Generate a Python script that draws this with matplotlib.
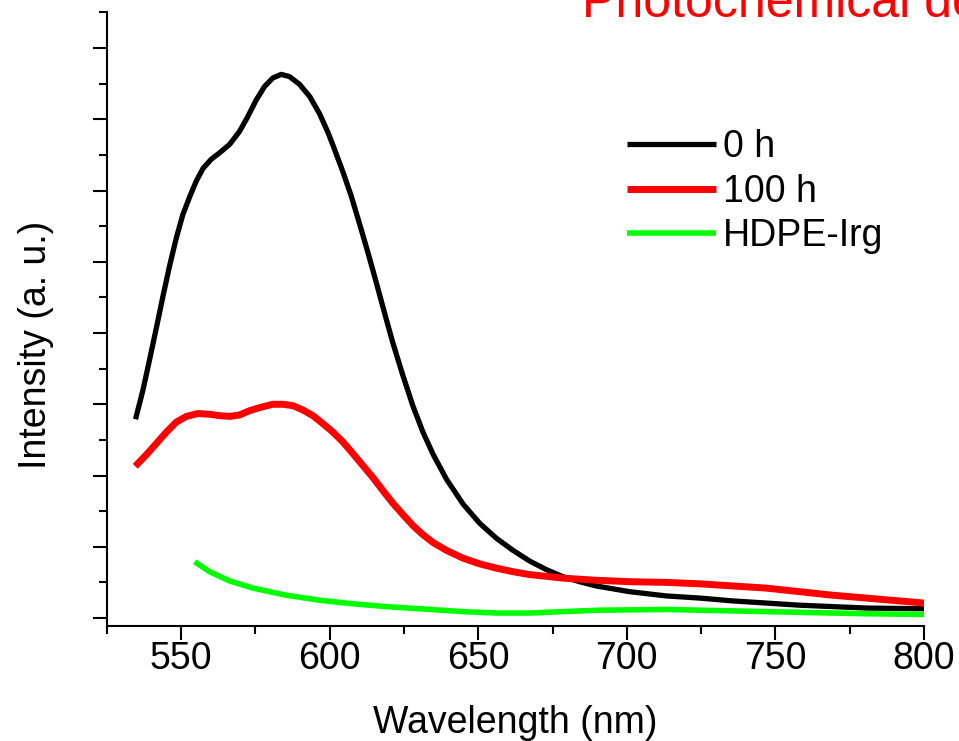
import matplotlib
matplotlib.use("Agg")
import matplotlib.pyplot as plt
from matplotlib.ticker import MultipleLocator, NullFormatter

plt.rcParams['font.family'] = ['Liberation Sans', 'DejaVu Sans']

# 0 h
wl_0h = [534.7, 537.2, 539.4, 541.7, 543.9, 546.2, 548.4, 550.6, 552.9, 555.1,
         557.4, 560.2, 563.0, 566.4, 569.7, 572.5, 575.3, 578.1, 580.9, 583.7,
         586.5, 589.9, 593.3, 596.6, 599.4, 601.1, 604.5, 607.3, 610.1, 612.9,
         615.7, 618.5, 621.3, 624.7, 628.0, 631.4, 634.8, 639.3, 644.9, 650.5,
         656.1, 661.7, 667.3, 672.9, 678.5, 684.1, 689.7, 700.9, 713.3, 724.5,
         735.7, 746.9, 758.1, 769.3, 780.6, 800.0]
int_0h = [2.79, 3.20, 3.62, 4.07, 4.51, 4.95, 5.33, 5.66, 5.91, 6.13,
          6.31, 6.44, 6.53, 6.65, 6.83, 7.04, 7.27, 7.46, 7.58, 7.63,
          7.60, 7.49, 7.32, 7.08, 6.82, 6.64, 6.26, 5.92, 5.53, 5.13,
          4.71, 4.28, 3.86, 3.40, 2.98, 2.61, 2.30, 1.95, 1.60, 1.33,
          1.12, 0.95, 0.80, 0.68, 0.58, 0.51, 0.45, 0.37, 0.31, 0.28,
          0.24, 0.21, 0.18, 0.16, 0.14, 0.13]

# 100 h
wl_100h = [534.6, 538.3, 541.7, 545.1, 548.4, 551.8, 555.7, 559.6, 563.0, 566.4,
           569.7, 573.1, 577.0, 580.9, 584.3, 587.7, 591.0, 594.4, 597.7, 601.1,
           604.5, 607.8, 611.2, 614.6, 617.9, 621.3, 624.7, 628.0, 631.4, 634.8,
           639.3, 644.9, 650.5, 656.1, 661.7, 667.3, 678.5, 689.7, 700.9, 713.3,
           724.5, 735.7, 746.9, 758.1, 769.3, 780.6, 800.0]
int_100h = [2.13, 2.29, 2.45, 2.61, 2.75, 2.83, 2.87, 2.86, 2.84, 2.83,
            2.85, 2.91, 2.96, 3.00, 3.00, 2.98, 2.92, 2.84, 2.73, 2.61,
            2.47, 2.31, 2.14, 1.97, 1.79, 1.61, 1.45, 1.30, 1.17, 1.06,
            0.95, 0.84, 0.76, 0.70, 0.65, 0.61, 0.56, 0.53, 0.51, 0.50,
            0.48, 0.45, 0.42, 0.37, 0.32, 0.28, 0.21]

# HDPE-Irg
wl_ref = [554.6, 559.6, 566.4, 574.2, 585.4, 596.6, 607.8, 619.1, 630.3, 644.9,
          656.1, 667.3, 678.5, 690.8, 713.3, 735.7, 758.1, 780.6, 800.0]
int_ref = [0.79, 0.65, 0.52, 0.42, 0.32, 0.25, 0.20, 0.16, 0.13, 0.09,
           0.07, 0.07, 0.09, 0.11, 0.12, 0.10, 0.08, 0.06, 0.05]

labels = ['0 h', '100 h', 'HDPE-Irg']
colors = ['#000000', '#ff0000', '#00ff00']
widths = [3.8, 5.0, 4.0]

W, H = 959, 741
fig = plt.figure(figsize=(W / 100, H / 100), dpi=100)
ax = fig.add_axes([106.7 / W, 1 - 626 / H, (924 - 106.7) / W, (626 - 12) / H])

for x, y, lab, c, lw in zip([wl_0h, wl_100h, wl_ref], [int_0h, int_100h, int_ref],
                            labels, colors, widths):
    ax.plot(x, y, color=c, lw=lw, label=lab, solid_joinstyle='round',
            solid_capstyle='butt')

ax.set_xlim(525, 800)
ax.set_ylim(-0.112, 8.506)

for s in ['top', 'right']:
    ax.spines[s].set_visible(False)
for s in ['left', 'bottom']:
    ax.spines[s].set_linewidth(1.5)

ax.xaxis.set_major_locator(MultipleLocator(50))
ax.xaxis.set_minor_locator(MultipleLocator(25))
ax.yaxis.set_major_locator(MultipleLocator(1))
ax.yaxis.set_minor_locator(MultipleLocator(0.5))
ax.yaxis.set_major_formatter(NullFormatter())
ax.tick_params(which='major', direction='out', length=10, width=1.5, labelsize=27, pad=1)
ax.tick_params(which='minor', direction='out', length=5.5, width=1.5)

ax.set_xlabel('Wavelength (nm)', fontsize=27)
ax.xaxis.set_label_coords(0.5, -0.1286)
ax.set_ylabel('Intensity (a. u.)', fontsize=27)
ax.yaxis.set_label_coords(-0.0645, 0.4577)

leg = ax.legend(loc='upper left', bbox_to_anchor=(627 / W, 1 - 129 / H),
                bbox_transform=fig.transFigure, frameon=False, fontsize=27,
                handlelength=2.37, handletextpad=0.19, labelspacing=0.23,
                borderpad=0, borderaxespad=0)

fig.text(582 / W, 1 - 17 / H, 'Photochemical degradation', color='#ff0000',
         fontsize=36, ha='left', va='baseline')

fig.savefig('out.png', dpi=100)
